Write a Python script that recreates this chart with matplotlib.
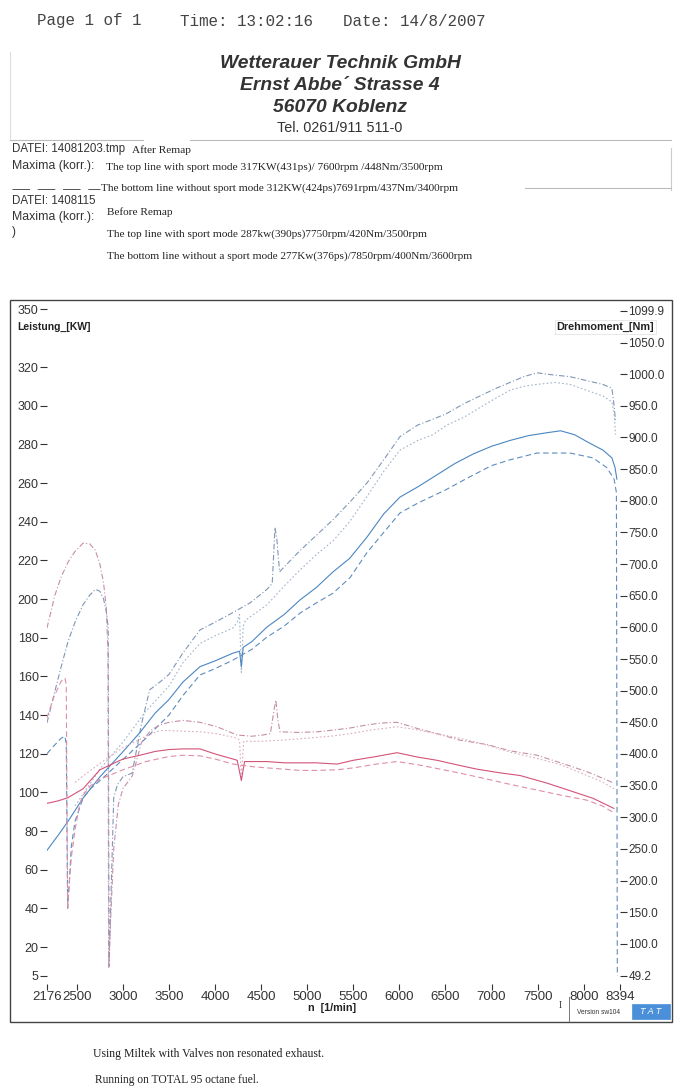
import matplotlib
matplotlib.use("Agg")
import matplotlib.pyplot as plt
from matplotlib.lines import Line2D
from matplotlib.patches import Rectangle

# ---------------- data (read from the scanned dyno sheet) ----------------
# Run A: after remap, sport mode
pA_rpm = [2176, 2260, 2330, 2404, 2480, 2567, 2640, 2700, 2750, 2790, 2825, 2840, 2850,
          2870, 2900, 2940, 3000, 3100, 3200, 3290, 3400, 3500, 3650, 3836, 4000, 4194,
          4380, 4563, 4620, 4650, 4670, 4700, 4737, 4921, 5100, 5279, 5460, 5648, 5830,
          6006, 6200, 6364, 6516, 6700, 6874, 7050, 7200, 7350, 7493, 7650, 7851, 8030,
          8209, 8306, 8330, 8345]
pA_kw = [136, 152, 165, 178, 188, 197, 202, 205, 204, 200, 192, 185, 10,
         46, 97, 104, 108, 110, 135, 153, 157, 161, 172, 184, 188, 193,
         198, 205, 208, 237, 231, 214, 216, 225, 233, 241, 250, 260, 272,
         284, 290, 293, 296, 301, 305, 309, 312, 315, 317, 316, 315, 313,
         311, 309, 300, 292]
tA_rpm = [2176, 2260, 2330, 2404, 2480, 2567, 2640, 2700, 2750, 2790, 2820, 2838, 2845,
          2870, 2900, 2950, 3000, 3100, 3150, 3200, 3300, 3400, 3500, 3650, 3836, 4020,
          4237, 4400, 4520, 4600, 4640, 4660, 4680, 4704, 4900, 5106, 5300, 5464, 5650,
          5822, 5974, 6200, 6408, 6650, 6950, 7200, 7493, 7750, 8035, 8200, 8328]
tA_nm = [599, 650, 680, 703, 720, 733, 732, 722, 700, 670, 630, 560, 62,
         150, 250, 320, 345, 365, 390, 418, 437, 446, 450, 453, 450, 443,
         430, 428, 430, 432, 470, 485, 455, 435, 434, 435, 438, 441, 446,
         449, 450, 440, 432, 422, 415, 405, 398, 386, 372, 362, 354]

# Run B: after remap, without sport mode
pB_rpm = [2480, 2567, 2750, 3000, 3250, 3500, 3650, 3836, 4000, 4194, 4240, 4265, 4285,
          4305, 4330, 4563, 4737, 4921, 5100, 5279, 5460, 5648, 5830, 6006, 6200, 6364,
          6516, 6700, 6874, 7050, 7200, 7350, 7493, 7691, 7851, 8030, 8209, 8306, 8330, 8345]
pB_kw = [93, 99, 112, 126, 142, 155, 167, 177, 181, 185, 188, 192, 162,
         186, 189, 197, 206, 215, 223, 230, 240, 253, 266, 277, 282, 285,
         290, 294, 299, 304, 308, 310, 311, 312, 311, 308, 305, 302, 296, 285]
tB_rpm = [2480, 2567, 2750, 3000, 3250, 3400, 3500, 3650, 3836, 4020, 4237, 4265, 4285,
          4310, 4500, 4750, 5000, 5250, 5464, 5700, 5974, 6200, 6408, 6650, 6950, 7200,
          7493, 7750, 8035, 8200, 8328]
tB_nm = [355, 365, 385, 410, 428, 437, 437, 436, 435, 432, 425, 422, 360,
         420, 420, 422, 425, 428, 432, 438, 443, 438, 432, 425, 414, 403,
         393, 383, 366, 356, 345]

# Run C: before remap, sport mode
pC_rpm = [2176, 2300, 2404, 2567, 2750, 3000, 3185, 3350, 3500, 3650, 3836, 4000, 4194,
          4265, 4285, 4305, 4400, 4563, 4750, 4921, 5100, 5279, 5460, 5648, 5830, 6006,
          6200, 6400, 6600, 6800, 7000, 7200, 7400, 7600, 7750, 7900, 8050, 8209, 8306,
          8340, 8360]
pC_kw = [70, 78, 85, 97, 108, 121, 131, 141, 148, 157, 165, 168, 172,
         173, 165, 175, 178, 185.5, 192, 199.5, 206, 214, 221, 232, 244, 252.7,
         258, 264, 270, 275, 279, 282, 284.5, 286, 287, 285, 281, 277, 273,
         268, 262]
tC_rpm = [2176, 2300, 2404, 2567, 2750, 3000, 3185, 3350, 3500, 3650, 3836, 4000, 4194,
          4240, 4285, 4320, 4563, 4750, 4921, 5100, 5323, 5500, 5750, 5974, 6200, 6408,
          6650, 6842, 7100, 7308, 7600, 7851, 8100, 8328]
tC_nm = [322, 326, 331, 345, 375, 392, 398, 404, 407, 408, 408, 400, 392,
         390, 358, 388, 388, 386, 386, 386, 384, 390, 396, 402, 395, 390,
         382, 376, 370, 366, 354, 342, 330, 314]

# Run D: before remap, without sport mode
pD_rpm = [2176, 2250, 2330, 2370, 2385, 2400, 2420, 2440, 2480, 2567, 2650, 2750, 3000,
          3250, 3500, 3650, 3836, 4000, 4194, 4400, 4563, 4750, 4921, 5100, 5279, 5464,
          5648, 5822, 6006, 6200, 6500, 6740, 7000, 7200, 7493, 7851, 8100, 8250, 8330,
          8355, 8365]
pD_kw = [120, 124, 128, 129, 125, 40, 55, 72, 85, 97, 102, 106, 117,
         128, 140, 150, 160.7, 164, 168.4, 174, 180.3, 186, 192.7, 198, 203, 211,
         224, 234, 244.5, 249.6, 256.4, 262.6, 269, 272, 275.5, 275.5, 273, 268, 262,
         255, 5]
tD_rpm = [2176, 2250, 2330, 2370, 2385, 2400, 2420, 2440, 2480, 2530, 2567, 2650, 2750,
          3000, 3250, 3500, 3650, 3836, 4000, 4194, 4400, 4563, 4750, 4921, 5100, 5323,
          5500, 5750, 5974, 6200, 6408, 6650, 6900, 7200, 7493, 7750, 8035, 8200, 8328]
tD_nm = [457, 490, 515, 520, 510, 155, 200, 237, 280, 320, 335, 350, 360,
         375, 388, 396, 398, 397, 392, 384, 380, 378, 376, 374, 374, 375,
         378, 384, 388, 383, 377, 370, 362, 352, 343, 335, 327, 318, 307]

x_ticks = [2176, 2500, 3000, 3500, 4000, 4500, 5000, 5500, 6000, 6500, 7000, 7500, 8000, 8394]
kw_ticks = [5, 20, 40, 60, 80, 100, 120, 140, 160, 180, 200, 220, 240, 260, 280, 300, 320, 350]
nm_ticks = [49.2, 100, 150, 200, 250, 300, 350, 400, 450, 500, 550, 600, 650, 700, 750,
            800, 850, 900, 950, 1000, 1050, 1099.9]

# ---------------- figure ----------------
W, H = 677, 1089
fig = plt.figure(figsize=(W / 100, H / 100), dpi=100)
fig.patch.set_facecolor("white")

def fx(px):
    return px / W

def fy(py):
    return 1 - py / H

SANS = ["Liberation Sans", "DejaVu Sans"]
SERIF = ["Liberation Serif", "DejaVu Serif"]
MONO = ["Liberation Mono", "DejaVu Sans Mono"]

def T(px, py, s, **kw):
    kw.setdefault("va", "center")
    kw.setdefault("ha", "left")
    fig.text(fx(px), fy(py), s, **kw)

def L(x0, y0, x1, y1, **kw):
    fig.add_artist(Line2D([fx(x0), fx(x1)], [fy(y0), fy(y1)], transform=fig.transFigure, **kw))

# top line
T(37, 21, "Page 1 of 1", family=MONO, size=11.4, color="#444444")
T(180, 21, "Time: 13:02:16", family=MONO, size=11.4, color="#444444")
T(343, 21, "Date: 14/8/2007", family=MONO, size=11.4, color="#444444")

# company header
for yy, s in [(64, "Wetterauer Technik GmbH"), (86, "Ernst Abbe´ Strasse 4"), (107, "56070 Koblenz")]:
    T(340, yy, s, family=SANS, size=13.9, weight="bold", style="italic",
      ha="center", color="#333333")
T(340, 128, "Tel. 0261/911 511-0", family=SANS, size=10.4, ha="center", color="#333333")

# faint header box lines
L(10, 52, 10, 140, color="#dddddd", lw=0.8)
L(10, 140, 143, 140, color="#bbbbbb", lw=0.8)
L(190, 140, 671, 140, color="#bbbbbb", lw=0.8)
L(671, 148, 671, 190, color="#cccccc", lw=0.8)
L(525, 188, 671, 188, color="#bbbbbb", lw=0.8)

# file info block
T(12, 149, "DATEI: 14081203.tmp", family=SANS, size=8.3, color="#333333")
T(132, 150, "After Remap", family=SERIF, size=8.1, color="#222222")
T(12, 166, "Maxima (korr.):", family=SANS, size=8.8, color="#333333")
T(106, 167, "The top line with sport mode 317KW(431ps)/ 7600rpm /448Nm/3500rpm",
  family=SERIF, size=8.2, color="#222222")
L(12, 189, 100, 189, color="#555555", lw=0.7, ls=(0, (18, 8)))
T(101, 188, "The bottom line without sport mode 312KW(424ps)7691rpm/437Nm/3400rpm",
  family=SERIF, size=8.1, color="#222222")
T(12, 201, "DATEI: 1408115", family=SANS, size=8.3, color="#333333")
T(12, 217, "Maxima (korr.):", family=SANS, size=8.8, color="#333333")
T(107, 212, "Before Remap", family=SERIF, size=8.1, color="#222222")
T(12, 232, ")", family=SANS, size=8.5, color="#333333")
T(107, 234, "The top line with sport mode 287kw(390ps)7750rpm/420Nm/3500rpm",
  family=SERIF, size=8.1, color="#222222")
T(107, 256, "The bottom line without a sport mode 277Kw(376ps)/7850rpm/400Nm/3600rpm",
  family=SERIF, size=8.1, color="#222222")

# chart frame
fig.add_artist(Rectangle((fx(10), fy(1022)), fx(672) - fx(10), fy(300) - fy(1022),
                         transform=fig.transFigure, fill=False, ec="#444444", lw=1.0))

# axes
ax = fig.add_axes([fx(47), fy(976), fx(620) - fx(47), fy(309) - fy(976)])
ax.set_facecolor("none")
ax.set_xlim(2176, 8394)
ax.set_ylim(5, 350)
ax2 = ax.twinx()
ax2.set_ylim(49.2, 1103)

for a in (ax, ax2):
    for s in a.spines.values():
        s.set_visible(False)
ax.spines["bottom"].set_position(("outward", 6))

lw = 0.8
# power curves (left axis)
ax.plot(pA_rpm, pA_kw, color="#7f96b5", lw=lw, ls=(0, (5, 2, 1, 2)))
ax.plot(pB_rpm, pB_kw, color="#a3b4c9", lw=lw, ls=(0, (1.5, 2)))
ax.plot(pC_rpm, pC_kw, color="#4a86c2", lw=lw, ls="-")
ax.plot(pD_rpm, pD_kw, color="#5d8cbe", lw=lw, ls=(0, (5, 3)))
# torque curves (right axis)
ax2.plot(tA_rpm, tA_nm, color="#c48fa8", lw=lw, ls=(0, (5, 2, 1, 2)))
ax2.plot(tB_rpm, tB_nm, color="#dbadbd", lw=lw, ls=(0, (1.5, 2)))
ax2.plot(tC_rpm, tC_nm, color="#d45378", lw=lw, ls="-")
ax2.plot(tD_rpm, tD_nm, color="#de8ea7", lw=lw, ls=(0, (5, 3)))

ax.set_xticks(x_ticks)
ax.set_xticklabels([str(v) for v in x_ticks])
ax.set_yticks(kw_ticks)
ax.set_yticklabels([str(v) for v in kw_ticks])
ax2.set_yticks(nm_ticks)
ax2.set_yticklabels(["%.1f" % v for v in nm_ticks])

ax.tick_params(axis="x", direction="out", length=4, width=0.8, pad=1,
               labelsize=9.5, colors="#333333")
ax.tick_params(axis="y", direction="out", length=5, width=0.8, pad=1,
               labelsize=9, colors="#333333")
ax2.tick_params(axis="y", direction="out", length=5, width=0.8, pad=1,
                labelsize=8.5, colors="#333333")
for lab in ax.get_xticklabels() + ax.get_yticklabels() + ax2.get_yticklabels():
    lab.set_family(SANS)

# axis titles
T(17, 327, "Leistung_[KW]", family=SANS, size=7.5, weight="bold", color="#222222")
T(654, 327, "Drehmoment_[Nm]", family=SANS, size=7.8, weight="bold", color="#222222",
  ha="right", bbox=dict(boxstyle="square,pad=0.15", fc="white", ec="#e4e4e4", lw=0.6))
T(332, 1008, "n  [1/min]", family=SANS, size=7.8, weight="bold", color="#222222", ha="center")

# bottom-right badge
T(560, 1005, "I", family=SERIF, size=7, color="#333333", ha="center")
L(569, 997, 569, 1021, color="#777777", lw=0.7)
T(577, 1012, "Version sw104", family=SANS, size=4.8, color="#333333")
fig.add_artist(Rectangle((fx(632), fy(1019)), fx(670) - fx(632), fy(1004) - fy(1019),
                         transform=fig.transFigure, fc="#4a90d9", ec="#4a90d9", lw=0.5))
T(651, 1012, "T A T", family=SANS, size=6.5, style="italic", color="white", ha="center")

# footer
T(93, 1054, "Using Miltek with Valves non resonated exhaust.", family=SERIF, size=8.5,
  color="#222222")
T(95, 1080, "Running on TOTAL 95 octane fuel.", family=SERIF, size=8.3, color="#222222")

fig.savefig("out.png", dpi=100)
